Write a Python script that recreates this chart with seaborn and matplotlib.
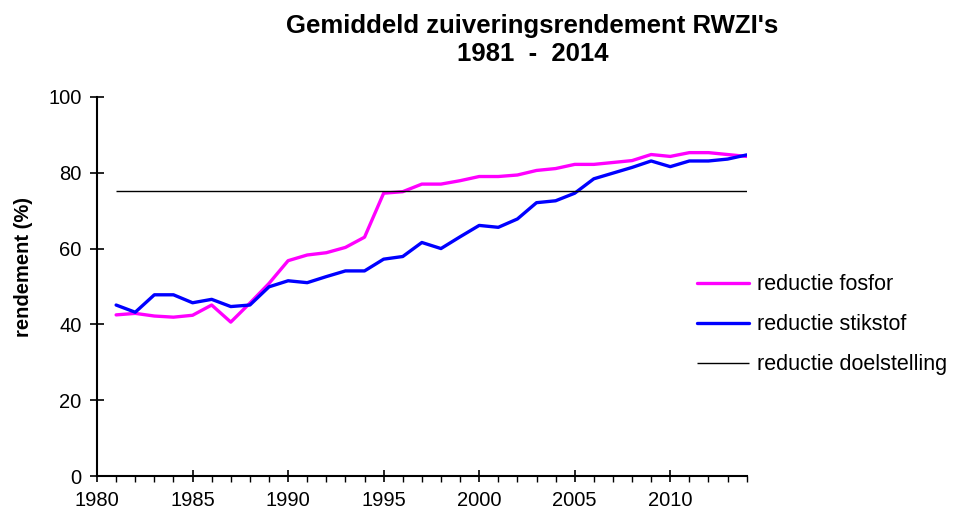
import pandas as pd
import matplotlib
matplotlib.use("Agg")
import matplotlib.pyplot as plt
import seaborn as sns
from matplotlib.ticker import MultipleLocator

sns.set_style("white")
plt.rcParams["font.family"] = ["Liberation Sans", "DejaVu Sans"]
plt.rcParams["text.color"] = "black"
plt.rcParams["xtick.color"] = "black"
plt.rcParams["ytick.color"] = "black"

# data
years = list(range(1981, 2015))
fosfor = [42.5, 42.9, 42.2, 41.9, 42.4, 45.1, 40.6, 45.6, 50.8, 56.8,
          58.3, 58.9, 60.3, 63.0, 74.6, 75.0, 77.0, 77.0, 77.9, 79.0,
          79.0, 79.4, 80.6, 81.1, 82.2, 82.2, 82.7, 83.2, 84.8, 84.3,
          85.3, 85.3, 84.8, 84.3]
stikstof = [45.1, 43.2, 47.8, 47.8, 45.7, 46.6, 44.7, 45.1, 49.9, 51.5,
            51.0, 52.6, 54.1, 54.1, 57.2, 57.9, 61.6, 60.0, 63.1, 66.1,
            65.6, 67.8, 72.1, 72.6, 74.6, 78.4, 79.9, 81.4, 83.1, 81.6,
            83.1, 83.1, 83.6, 84.7]
doelstelling = 75.2

df = pd.DataFrame({"jaar": years, "fosfor": fosfor, "stikstof": stikstof})

fig = plt.figure(figsize=(9.54, 5.13), dpi=100)
ax = fig.add_axes([0.1017, 0.0721, 0.681, 0.739])

sns.lineplot(data=df, x="jaar", y="fosfor", ax=ax, color="#FF00FF", linewidth=2.4,
             label="reductie fosfor")
sns.lineplot(data=df, x="jaar", y="stikstof", ax=ax, color="#0000FF", linewidth=2.4,
             label="reductie stikstof")
ax.hlines(doelstelling, years[0], years[-1], color="black", linewidth=1.0,
          label="reductie doelstelling")

ax.set_xlim(1980, 2014)
ax.set_ylim(0, 100)
ax.xaxis.set_major_locator(MultipleLocator(5))
ax.xaxis.set_minor_locator(MultipleLocator(1))
ax.yaxis.set_major_locator(MultipleLocator(20))
ax.tick_params(axis="y", which="major", direction="inout", length=10, width=1.2,
               labelsize=14.5, pad=6, left=True)
ax.tick_params(axis="x", which="major", direction="inout", length=9, width=1.2,
               labelsize=14.5, pad=6, bottom=True)
ax.tick_params(axis="x", which="minor", direction="out", length=4, width=1.0, bottom=True)

for side in ["top", "right"]:
    ax.spines[side].set_visible(False)
for side in ["left", "bottom"]:
    ax.spines[side].set_color("black")
    ax.spines[side].set_linewidth(1.5)

ax.set_xlabel("")
ax.set_ylabel("")
fig.text(0.025, 0.48, "rendement (%)", rotation=90, ha="center", va="center",
         fontsize=14.5, fontweight="bold")

fig.text(0.558, 0.950, "Gemiddeld zuiveringsrendement RWZI's", ha="center", va="center",
         fontsize=18.5, fontweight="bold")
fig.text(0.558, 0.895, "1981  -  2014", ha="center", va="center",
         fontsize=18.5, fontweight="bold")

ax.legend(loc="center left", bbox_to_anchor=(0.722, 0.367), bbox_transform=fig.transFigure,
          frameon=False, fontsize=15.5, handlelength=2.4, handletextpad=0.35,
          labelspacing=0.88, borderaxespad=0)

plt.savefig("out.png", dpi=100)
